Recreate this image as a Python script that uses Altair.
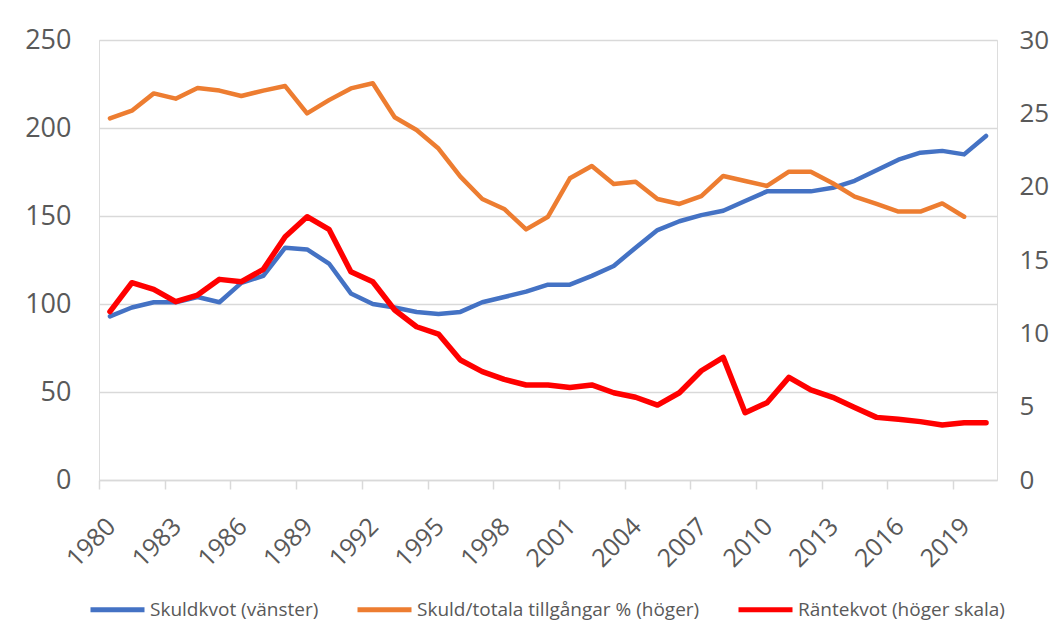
import altair as alt
import pandas as pd

years = list(range(1980, 2021))
skuldkvot = [93, 98, 101, 101, 104, 101, 112, 116, 132, 131,
             123, 106, 100, 98, 95.5, 94.3, 95.5, 101, 104, 107,
             111, 111, 116, 121.6, 132, 142, 147, 150.5, 153, 158.5,
             164, 164, 164, 166, 170, 176, 182, 186, 187, 185,
             195.5]
skuld_tillgangar = [24.66, 25.18, 26.36, 26.0, 26.73, 26.55, 26.18, 26.55, 26.86, 25.0,
                    25.9, 26.7, 27.05, 24.73, 23.86, 22.6, 20.68, 19.16, 18.48, 17.09,
                    17.95, 20.57, 21.41, 20.18, 20.34, 19.16, 18.82, 19.35, 20.73, 20.39,
                    20.05, 21.02, 21.02, 20.23, 19.32, 18.82, 18.3, 18.3, 18.86, 17.95,
                    None]
rantekvot = [11.48, 13.45, 13.0, 12.16, 12.61, 13.68, 13.52, 14.36, 16.59, 17.95,
             17.09, 14.2, 13.52, 11.59, 10.45, 9.95, 8.18, 7.39, 6.86, 6.48,
             6.48, 6.3, 6.48, 5.95, 5.64, 5.11, 5.95, 7.45, 8.36, 4.59,
             5.27, 7.0, 6.14, 5.64, 4.95, 4.27, 4.14, 3.98, 3.75, 3.91,
             3.91]

series_names = ["Skuldkvot (vänster)", "Skuld/totala tillgångar % (höger)", "Räntekvot (höger skala)"]
series_colors = ["#4472C4", "#ED7D31", "#FF0000"]
left_ticks = [0, 50, 100, 150, 200, 250]
right_ticks = [0, 5, 10, 15, 20, 25, 30]
x_tick_years = [y - 0.5 for y in range(1980, 2020, 3)]

rows = []
for name, vals in zip(series_names, [skuldkvot, skuld_tillgangar, rantekvot]):
    for yr, v in zip(years, vals):
        if v is not None:
            rows.append({"year": yr, "series": name, "value": v})
df = pd.DataFrame(rows)

FONT = "Open Sans"
LABEL_COLOR = "#595959"
GRID = "#D9D9D9"

x_enc = alt.X("year:Q",
              scale=alt.Scale(domain=[1979.5, 2020.5], nice=False, zero=False),
              axis=alt.Axis(values=x_tick_years, labelExpr="format(datum.value + 0.5, 'd')",
                            labelAngle=-45, labelAlign="right", labelBaseline="middle",
                            labelOffset=12, labelPadding=33,
                            tickSize=9, tickColor=GRID, domainColor=GRID, domainWidth=1.5,
                            tickWidth=1.5,
                            grid=False, title=None, labelFontSize=25, labelFont=FONT,
                            labelColor=LABEL_COLOR, labelOverlap=False))

color_enc = alt.Color("series:N",
                      scale=alt.Scale(domain=series_names, range=series_colors),
                      legend=alt.Legend(title=None, orient="none", direction="horizontal",
                                        legendX=-11, legendY=540,
                                        symbolType="stroke", symbolSize=2916,
                                        symbolStrokeWidth=5, labelOffset=3,
                                        columnPadding=28, labelFontSize=19, labelLimit=600,
                                        labelFont=FONT, labelColor=LABEL_COLOR))
width_enc = alt.condition(alt.datum.series == series_names[2], alt.value(5.5), alt.value(4.5))

left = alt.Chart(df).transform_filter(
    alt.datum.series == series_names[0]
).mark_line(strokeCap="round", strokeJoin="round").encode(
    x=x_enc,
    y=alt.Y("value:Q", scale=alt.Scale(domain=[0, 250], nice=False),
            axis=alt.Axis(values=left_ticks, orient="left", grid=True, gridColor=GRID,
                          gridWidth=1.5, domain=False, ticks=False, labelPadding=28,
                          labelFontSize=27, labelFont=FONT, labelColor=LABEL_COLOR,
                          title=None)),
    color=color_enc,
    strokeWidth=width_enc,
    order="year:Q",
)

right = alt.Chart(df).transform_filter(
    alt.datum.series != series_names[0]
).mark_line(strokeCap="round", strokeJoin="round").encode(
    x=x_enc,
    y=alt.Y("value:Q", scale=alt.Scale(domain=[0, 30], nice=False),
            axis=alt.Axis(values=right_ticks, orient="right", grid=False, domain=False,
                          ticks=False, labelPadding=22, labelFontSize=26, labelFont=FONT,
                          labelColor=LABEL_COLOR, title=None)),
    color=color_enc,
    strokeWidth=width_enc,
    order="year:Q",
)

chart = alt.layer(left, right).resolve_scale(y="independent").properties(
    width=898, height=440,
    autosize=alt.AutoSizeParams(type="none"),
    padding={"left": 91, "top": 32, "right": 52, "bottom": 147},
).configure_view(stroke=None).configure(background="white")

chart.save("out.html", embed_options={"renderer": "svg", "actions": False})
